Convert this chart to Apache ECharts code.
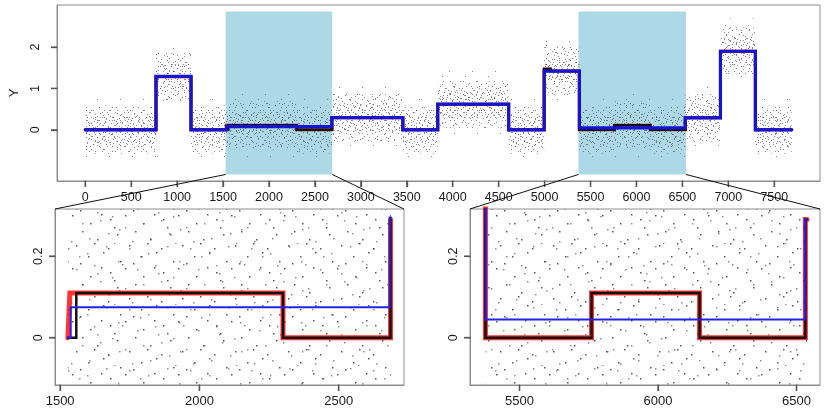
<!doctype html>
<html>
<head>
<meta charset="utf-8">
<script src="https://cdn.jsdelivr.net/npm/echarts@6/dist/echarts.min.js"></script>
<style>
  html, body { margin: 0; background: #fff; }
  #chart { width: 830px; height: 408px; }
</style>
</head>
<body>
<div id="chart"></div>
<script>
// last index of the series
const xEnd = 7690;

// true signal (black): change points and levels
const trueStart = [0, 770, 1151, 1558, 2300, 2686, 3457, 3837, 4609, 4995, 5065, 5377, 5760, 6150, 6532, 6914, 7294];
const trueLevel = [0, 1.28, 0, 0.11, 0, 0.29, 0, 0.62, 0, 1.47, 1.42, 0, 0.11, 0, 0.29, 1.9, 0];

// second fit (red): same levels, first rise inside the left window comes earlier
const redStart = [0, 770, 1151, 1535, 2300, 2686, 3457, 3837, 4609, 4995, 5065, 5377, 5760, 6150, 6532, 6914, 7294];

// coarse fit (blue)
const estStart = [0, 770, 1151, 1538, 2683, 3457, 3837, 4609, 4995, 5379, 6530, 6914, 7294];
const estLevel = [0, 1.29, 0, 0.075, 0.295, 0, 0.62, 0, 1.42, 0.045, 0.29, 1.9, 0];

// spread of the noisy observations round the true level
const noiseInner = 0.32;
const noiseOuter = 0.58;
const noiseFar = 0.8;
const noiseYMin = -1.08;
const noiseYMax = 2.86;

// zoomed windows
const zoomStart = [1528, 5368];
const zoomEnd = [2688, 6538];
const zoomYMin = -0.1;
const zoomYMax = 0.3;

// tick labels
const topXTicks = [0, 500, 1000, 1500, 2000, 2500, 3000, 3500, 4000, 4500, 5000, 5500, 6000, 6500, 7000, 7500];
const topYTicks = [0, 1, 2];
const leftXTicks = [1500, 2000, 2500];
const rightXTicks = [5500, 6000, 6500];
const zoomYTicks = [0, 0.2];

// R style 4% axis padding
function pad(lo, hi) {
  const d = (hi - lo) * 0.04;
  return [lo - d, hi + d];
}

function segments(starts, levels) {
  return starts.map((s, i) => [s, i + 1 < starts.length ? starts[i + 1] : xEnd, levels[i]]);
}

function clipSegs(segs, lo, hi) {
  return segs
    .filter(([s, e]) => e > lo && s < hi)
    .map(([s, e, v]) => [Math.max(s, lo), Math.min(e, hi), v]);
}

function stepPoints(segs) {
  const pts = [];
  segs.forEach(([s, e, v]) => pts.push([s, v], [e, v]));
  return pts;
}

// speckle textures standing in for the cloud of raw points;
// tiles of coprime sizes are layered so the repeat is not visible
function makeTile(size, dots, color, r) {
  const c = document.createElement("canvas");
  c.width = size;
  c.height = size;
  const g = c.getContext("2d");
  g.fillStyle = color;
  dots.forEach(([x, y]) => g.fillRect(x, y, r, r));
  return c;
}
const dotGrey = "rgba(60,60,60,0.6)";
const tileA = makeTile(11, [[1, 2], [6, 0], [9, 5], [3, 7], [7, 9], [4, 4], [10, 10]], dotGrey, 1);
const tileB = makeTile(13, [[2, 1], [8, 3], [11, 8], [4, 10], [0, 6], [6, 12], [9, 0]], dotGrey, 1);
const tileC = makeTile(17, [[3, 3], [12, 1], [8, 8], [15, 11], [1, 13], [10, 15], [5, 10], [14, 5]], dotGrey, 1);
const tileD = makeTile(23, [[5, 7], [17, 18], [12, 2]], dotGrey, 1);
const tileH = makeTile(53, [
  [4, 7], [19, 3], [37, 11], [48, 2], [11, 22], [29, 19], [44, 27], [2, 36],
  [23, 33], [35, 44], [50, 40], [14, 49], [27, 51], [41, 31], [8, 15]
], "rgba(30,30,30,0.75)", 1.5);
const tileI = makeTile(61, [
  [7, 4], [26, 9], [45, 2], [57, 17], [15, 25], [33, 21], [51, 33], [3, 44], [21, 40],
  [39, 37], [28, 55], [47, 50], [10, 58], [58, 46], [36, 29], [18, 12], [53, 60], [0, 20]
], "rgba(70,70,70,0.6)", 1.5);

const trueSegs = segments(trueStart, trueLevel);
const redSegs = segments(redStart, trueLevel);
const estSegs = segments(estStart, estLevel);

function bandItem(spread, tile) {
  return function (params, api) {
    const p0 = api.coord([api.value(0), api.value(2) + spread]);
    const p1 = api.coord([api.value(1), api.value(2) - spread]);
    const cs = params.coordSys;
    const shape = echarts.graphic.clipRectByRect(
      { x: p0[0], y: p0[1], width: p1[0] - p0[0], height: p1[1] - p0[1] },
      { x: cs.x, y: cs.y, width: cs.width, height: cs.height }
    );
    return shape && { type: "rect", shape, style: { fill: { image: tile, repeat: "repeat" } } };
  };
}

function band(axis, data, spread, tile) {
  return { type: "custom", xAxisIndex: axis, yAxisIndex: axis, z: 2, silent: true, data, renderItem: bandItem(spread, tile) };
}

const axisFont = { fontFamily: "Liberation Sans", color: "#1a1a1a" };
const grey = "#8c8c8c";
const tickGrey = "#555555";
const tickLen = 6;

function axisTick(ticks) {
  return { show: true, length: tickLen, lineStyle: { color: tickGrey, width: 1.3 }, customValues: ticks };
}

function xAxis(grid, lim, ticks, size) {
  return {
    type: "value", gridIndex: grid, min: lim[0], max: lim[1], position: "bottom",
    splitLine: { show: false },
    axisLine: { show: true, onZero: false, lineStyle: { color: grey } },
    axisTick: axisTick(ticks),
    axisLabel: { ...axisFont, fontSize: size, margin: 10, customValues: ticks, formatter: (v) => String(v) }
  };
}
function yAxis(grid, lim, ticks, margin, extra) {
  return {
    type: "value", gridIndex: grid, min: lim[0], max: lim[1], position: "left",
    splitLine: { show: false },
    axisLine: { show: true, onZero: false, lineStyle: { color: grey } },
    axisTick: axisTick(ticks),
    axisLabel: { ...axisFont, fontSize: 12.5, rotate: 90, margin, customValues: ticks, formatter: (v) => String(v) },
    ...extra
  };
}

function lineSeries(axis, data, color, width, z) {
  return {
    type: "line", xAxisIndex: axis, yAxisIndex: axis, data, z,
    showSymbol: false, silent: true, clip: true,
    lineStyle: { color, width, cap: "round", join: "miter" }
  };
}

const topXLim = pad(0, xEnd);
const topYLim = pad(noiseYMin, noiseYMax);
const zoomYLim = pad(zoomYMin, zoomYMax);
const zoomXLim = zoomStart.map((s, i) => pad(s, zoomEnd[i]));

const series = [
  {
    type: "custom", xAxisIndex: 0, yAxisIndex: 0, z: 1, silent: true,
    data: zoomStart.map((s, i) => [s, zoomEnd[i]]),
    renderItem: (params, api) => {
      const a = api.coord([api.value(0), noiseYMax]);
      const b = api.coord([api.value(1), noiseYMin]);
      return { type: "rect", shape: { x: a[0], y: a[1], width: b[0] - a[0], height: b[1] - a[1] }, style: { fill: "#add8e6" } };
    }
  },
  band(0, trueSegs, noiseFar, tileD),
  band(0, trueSegs, noiseOuter, tileB),
  band(0, trueSegs, noiseOuter, tileC),
  band(0, trueSegs, noiseInner, tileA),
  lineSeries(0, stepPoints(redSegs), "#d01818", 3, 3),
  lineSeries(0, stepPoints(trueSegs), "#111111", 2.5, 4),
  lineSeries(0, stepPoints(estSegs), "#1414d2", 3.2, 5)
];

zoomStart.forEach((s, i) => {
  const e = zoomEnd[i];
  const ax = i + 1;
  const segs = clipSegs(trueSegs, s, e);
  series.push(
    band(ax, segs, noiseFar, tileH),
    band(ax, segs, noiseFar, tileI),
    lineSeries(ax, stepPoints(clipSegs(redSegs, s, e)), "rgba(255,0,0,0.8)", 5, 3),
    lineSeries(ax, stepPoints(segs), "#111111", 2.5, 4),
    lineSeries(ax, stepPoints(clipSegs(estSegs, s, e)), "#2222ee", 2, 5)
  );
});

const chart = echarts.init(document.getElementById("chart"), null, { renderer: "canvas" });
chart.setOption({
  animation: false,
  backgroundColor: "#ffffff",
  grid: [
    { left: 55, top: 5, width: 765, height: 176, show: true, borderColor: grey, borderWidth: 1, backgroundColor: "transparent" },
    { left: 55, top: 209, width: 349, height: 176, show: true, borderColor: grey, borderWidth: 1, backgroundColor: "transparent" },
    { left: 470, top: 209, width: 350, height: 176, show: true, borderColor: grey, borderWidth: 1, backgroundColor: "transparent" }
  ],
  xAxis: [
    xAxis(0, topXLim, topXTicks, 12.5),
    xAxis(1, zoomXLim[0], leftXTicks, 13),
    xAxis(2, zoomXLim[1], rightXTicks, 13)
  ],
  yAxis: [
    yAxis(0, topYLim, topYTicks, 15, {
      name: "Y", nameLocation: "middle", nameGap: 36, nameRotate: 90,
      nameTextStyle: { ...axisFont, fontSize: 13 }
    }),
    yAxis(1, zoomYLim, zoomYTicks, 10, {}),
    yAxis(2, zoomYLim, zoomYTicks, 10, {})
  ],
  series
});

const extra = [];
function seg(p, q, color, width) {
  extra.push({
    type: "line", z: 100, silent: true,
    shape: { x1: p[0], y1: p[1], x2: q[0], y2: q[1] },
    style: { stroke: color, lineWidth: width }
  });
}

// outward tick marks again as graphics, in case the axis ticks are hidden
const panels = [
  { xLim: topXLim, yLim: topYLim, xTicks: topXTicks, yTicks: topYTicks },
  { xLim: zoomXLim[0], yLim: zoomYLim, xTicks: leftXTicks, yTicks: zoomYTicks },
  { xLim: zoomXLim[1], yLim: zoomYLim, xTicks: rightXTicks, yTicks: zoomYTicks }
];
panels.forEach((p, g) => {
  p.xTicks.forEach((v) => {
    const a = chart.convertToPixel({ gridIndex: g }, [v, p.yLim[0]]);
    seg([a[0], a[1] - 0.5], [a[0] + 0.01, a[1] + tickLen], tickGrey, 1.3);
  });
  p.yTicks.forEach((v) => {
    const a = chart.convertToPixel({ gridIndex: g }, [p.xLim[0], v]);
    seg([a[0] + 0.5, a[1]], [a[0] - tickLen, a[1] + 0.01], tickGrey, 1.3);
  });
});

// connectors from the shaded windows down to the zoom panels
zoomStart.forEach((s, i) => {
  const e = zoomEnd[i];
  const g = i + 1;
  const a = chart.convertToPixel({ gridIndex: 0 }, [s, noiseYMin]);
  const b = chart.convertToPixel({ gridIndex: 0 }, [e, noiseYMin]);
  const c = chart.convertToPixel({ gridIndex: g }, [zoomXLim[i][0], zoomYLim[1]]);
  const d = chart.convertToPixel({ gridIndex: g }, [zoomXLim[i][1], zoomYLim[1]]);
  seg(a, c, "#111", 1);
  seg(b, d, "#111", 1);
});
chart.setOption({ graphic: extra });
</script>
</body>
</html>
